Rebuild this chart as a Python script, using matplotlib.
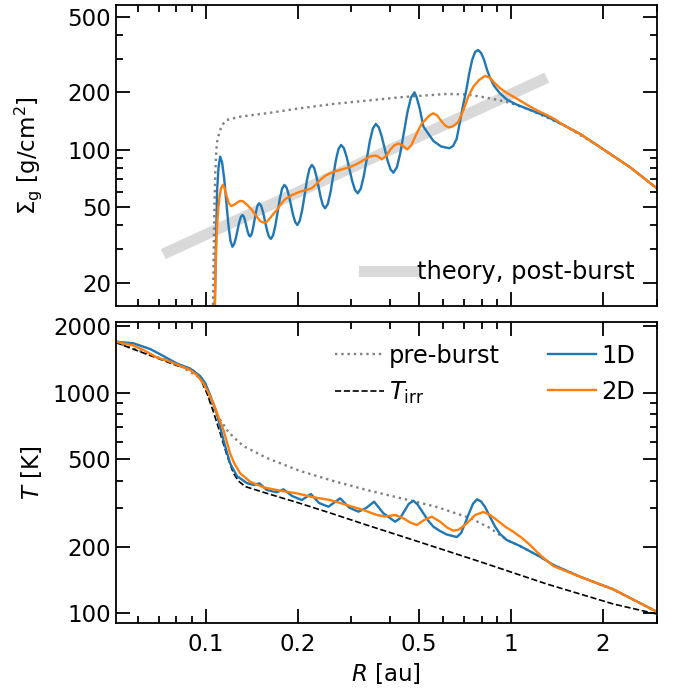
import matplotlib
matplotlib.use('Agg')
import matplotlib.pyplot as plt
from matplotlib.ticker import NullFormatter

plt.rcParams['font.size'] = 16.5
plt.rcParams['mathtext.fontset'] = 'dejavusans'

# --- surface density (top panel) ---
R_sig_1d = [0.1069, 0.1078, 0.1089, 0.1100,
            0.1114, 0.1131, 0.1149, 0.1167, 0.1185, 0.1204, 0.1222,
            0.1237, 0.1253, 0.1269, 0.1285, 0.1302, 0.1318,
            0.1331, 0.1344, 0.1357, 0.1370, 0.1383, 0.1396,
            0.1412, 0.1428, 0.1444, 0.1461, 0.1477, 0.1495,
            0.1517, 0.1540, 0.1562, 0.1586, 0.1609, 0.1633,
            0.1661, 0.1690, 0.1719, 0.1748, 0.1778, 0.1809,
            0.1839, 0.1869, 0.1900, 0.1931, 0.1963, 0.1995,
            0.2031, 0.2069, 0.2107, 0.2145, 0.2184, 0.2225,
            0.2263, 0.2301, 0.2340, 0.2379, 0.2419, 0.2459,
            0.2509, 0.2560, 0.2612, 0.2665, 0.2719, 0.2774,
            0.2833, 0.2893, 0.2954, 0.3017, 0.3081, 0.3147,
            0.3219, 0.3293, 0.3368, 0.3445, 0.3524, 0.3604,
            0.3685, 0.3767, 0.3851, 0.3938, 0.4026, 0.4116,
            0.4226, 0.4339, 0.4455, 0.4574, 0.4697, 0.4824,
            0.4901, 0.5015, 0.5161, 0.5362, 0.5565, 0.5898, 0.628,
            0.6457, 0.6631, 0.6808, 0.6965, 0.7124, 0.7287, 0.7453, 0.7624, 0.7796,
            0.7974, 0.8157, 0.8343, 0.8535, 0.8797, 0.9204, 0.9681, 1.031,
            1.154, 1.309, 1.483, 1.683, 1.909, 2.454, 3.0]
sig_1d = [12.8, 29.7, 61.4, 80.1,
          91.9, 85.4, 70.0, 53.3, 40.6, 33.3, 30.9,
          31.8, 34.1, 37.5, 41.3, 44.3, 45.4,
          44.6, 42.5, 39.8, 37.3, 35.6, 35.0,
          35.9, 38.7, 42.8, 47.3, 50.9, 52.3,
          50.8, 47.0, 42.2, 37.8, 35.0, 34.0,
          35.5, 40.0, 47.1, 55.4, 62.5, 65.3,
          63.2, 57.8, 51.3, 45.4, 41.6, 40.2,
          42.3, 48.3, 57.8, 69.3, 79.2, 83.1,
          80.3, 72.9, 64.0, 56.1, 51.0, 49.2,
          51.8, 59.6, 72.2, 87.4, 100.6, 105.8,
          101.8, 91.5, 79.1, 68.3, 61.4, 59.0,
          62.5, 72.8, 89.7, 110.7, 129.0, 136.4,
          131.2, 117.8, 101.6, 87.7, 78.8, 75.7,
          80.8, 96.6, 123.1, 157.0, 187.5, 200.1,
          189.1, 165.5, 132.1, 120.9, 111.1, 103.9, 101.7,
          104.6, 113.8, 141.5, 171.7, 203.3, 249.7, 295.8, 325.8, 333.7,
          321.8, 295.8, 262.0, 237.9, 216.0, 197.2, 183.4, 173.8,
          161.6, 149.4, 134.8, 120.9, 105.8, 80.8, 62.7]

R_sig_2d = [0.1067, 0.1076, 0.1086, 0.1097, 0.1110, 0.1122, 0.1137, 0.1151, 0.1170, 0.1188,
            0.1210, 0.1238, 0.1266, 0.1296, 0.1325, 0.1366, 0.1415, 0.1461, 0.1506, 0.1544,
            0.1582, 0.1624, 0.1709, 0.1764, 0.1818, 0.1917, 0.2036, 0.2131, 0.2225, 0.2297,
            0.2367, 0.2459, 0.2554, 0.2682, 0.2822, 0.2970, 0.3123, 0.3275, 0.3453, 0.3599,
            0.3681, 0.3771, 0.3881, 0.4015, 0.4138, 0.4274, 0.4411, 0.4564, 0.4705, 0.4910,
            0.5091, 0.5294, 0.5430, 0.5565, 0.5724, 0.5929, 0.6102, 0.6281, 0.6481, 0.6722,
            0.6981, 0.7231, 0.7524, 0.7854, 0.8219, 0.8505, 0.8797, 0.9204, 0.9681, 1.017,
            1.082, 1.154, 1.226, 1.309, 1.394, 1.483, 1.683, 1.909, 2.454, 3.0]
sig_2d = [12.8, 23.3, 36.4, 48.3, 57.1, 62.9, 65.3, 62.9, 57.1, 52.5,
          50.6, 51.3, 52.8, 53.8, 53.5, 51.3, 48.3, 44.9, 42.2, 41.4,
          41.7, 43.8, 48.3, 51.9, 54.9, 57.8, 60.2, 61.4, 62.7, 65.7,
          69.3, 72.8, 75.2, 77.3, 79.2, 81.1, 84.1, 87.8, 92.1, 93.2,
          91.6, 89.0, 92.1, 99.6, 105.2, 107.8, 105.2, 100.2, 105.2, 121.9,
          136.5, 146.2, 152.1, 155.3, 151.2, 140.3, 133.2, 130.8, 133.2, 140.3,
          161.6, 189.1, 214.2, 232.2, 243.8, 239.3, 225.3, 210.1, 198.5, 189.8,
          179.1, 168.2, 159.7, 152.1, 144.1, 134.8, 120.9, 105.8, 80.8, 62.7]

R_sig_pre = [0.1053, 0.1059, 0.1065, 0.1073, 0.1086, 0.1100, 0.1120, 0.1139, 0.1172,
             0.1296, 0.1584, 0.2036, 0.2618, 0.3367, 0.4330, 0.6157, 0.7158, 0.8325,
             0.9204, 0.9925, 1.154, 1.483, 1.909, 2.454, 3.0]
sig_pre = [11.3, 23.4, 42.8, 73.7, 108.1, 118.0, 129.5, 136.5, 143.2,
           149.0, 155.3, 164.9, 173.8, 180.8, 188.4, 196.1, 194.9, 187.5,
           181.3, 175.9, 161.6, 134.8, 105.8, 80.8, 62.7]

R_theory = [0.0754, 1.26]
sig_theory = [29.1, 232.2]

# --- temperature (bottom panel) ---
R_T_1d = [0.0507, 0.0579, 0.0657, 0.0726, 0.0804, 0.0888, 0.0958, 0.0995, 0.1033, 0.1086,
          0.1142, 0.1201, 0.1264, 0.1362, 0.1432, 0.1498, 0.1584, 0.1708, 0.1796, 0.1917,
          0.2063, 0.2208, 0.2350, 0.2521, 0.2754, 0.2947, 0.3161, 0.3350, 0.3558, 0.3818,
          0.4169, 0.4317, 0.4468, 0.4622, 0.4786, 0.4940, 0.5161, 0.5348, 0.5565, 0.5854,
          0.6157, 0.6641, 0.6859, 0.7066, 0.7287, 0.7507, 0.7738, 0.7974, 0.8219, 0.8535,
          0.8864, 0.9204, 0.9681, 1.070, 1.245, 1.376, 1.683, 2.163, 3.0]
T_1d = [1703, 1675, 1578, 1467, 1356, 1287, 1190, 1107, 976, 807,
        610, 478.6, 419.4, 389.8, 381.7, 388.5, 362.2, 353.6, 364.9, 340.2,
        326.3, 347.4, 316.2, 304.2, 332.2, 301.7, 288.8, 300.1, 320.6, 284.0,
        260.2, 268.7, 290.2, 313.6, 323.9, 311.3, 284.0, 263.4, 247.0, 236.0,
        227.6, 221.8, 231.2, 255.9, 284.9, 314.5, 328.7, 321.2, 303.3, 273.2,
        247.0, 228.8, 214.9, 201.9, 180.5, 165.6, 146.5, 128.4, 101.7]

R_T_2d = [0.0507, 0.0579, 0.0625, 0.0691, 0.0745, 0.0804, 0.0888, 0.0934, 0.0982, 0.1017,
          0.1059, 0.1097, 0.1142, 0.1201, 0.1238, 0.1296, 0.1397, 0.1544, 0.1751, 0.1986,
          0.2252, 0.2554, 0.2896, 0.3282, 0.3632, 0.3867, 0.4169, 0.4438, 0.4670, 0.4910,
          0.5189, 0.5498, 0.5854, 0.6171, 0.6471, 0.6757, 0.7158, 0.7624, 0.8115, 0.8535,
          0.8977, 0.9557, 1.017, 1.086, 1.154, 1.245, 1.376, 1.683, 2.163, 3.0]
T_2d = [1703, 1637, 1562, 1444, 1400, 1342, 1268, 1203, 1103, 1007,
        895, 784, 677.5, 531, 480, 431, 395, 372.6, 359.5, 349.9,
        335.7, 326.3, 309.7, 293.9, 279.1, 274.7, 279.1, 269.6, 258.0, 251.3,
        264.9, 274.1, 260.2, 244.9, 236.8, 239.8, 255.9, 279.1, 287.9, 279.1,
        264.9, 247.4, 234.4, 219.4, 204.0, 183.7, 163.8, 146.5, 128.4, 101.7]

R_T_pre = [0.0507, 0.0804, 0.0958, 0.1008, 0.1059, 0.1097, 0.1128, 0.1172,
           0.1231, 0.1328, 0.1584, 0.2036, 0.2618, 0.3367, 0.4330, 0.5710,
           0.7340, 0.8535, 0.9681, 1.070, 1.245, 1.376, 1.683, 2.163, 3.0]
T_pre = [1689, 1349, 1166, 1007, 852, 776, 737, 678,
         630, 573, 506, 441.8, 398, 362.2, 333.2, 303.4,
         270.4, 243.5, 214.9, 201.9, 180.5, 165.6, 146.5, 128.4, 101.7]

R_T_irr = [0.0507, 0.0625, 0.0804, 0.0911, 0.0958, 0.1008, 0.1059, 0.1114,
           0.1172, 0.1231, 0.1279, 0.1345, 0.1584, 0.2036, 0.2618, 0.3367,
           0.4786, 0.7915, 1.309, 2.163, 3.0]
T_irr = [1689, 1514, 1328, 1261, 1166, 997, 818, 657,
         522, 432.5, 397.9, 375.7, 349.9, 315.1, 281.9, 251.3,
         214.9, 171.4, 135.8, 110.2, 99.3]

xticks = [0.1, 0.2, 0.5, 1, 2]
xticklabels = ['0.1', '0.2', '0.5', '1', '2']
sig_ticks = [20, 50, 100, 200, 500]
T_ticks = [100, 200, 500, 1000, 2000]

fig = plt.figure(figsize=(6.81, 6.92), dpi=100)
ax1 = fig.add_axes([0.170, 0.5578, 0.7944, 0.435])
ax2 = fig.add_axes([0.170, 0.0997, 0.7944, 0.435], sharex=ax1)

ax1.plot(R_theory, sig_theory, color='#d9d9d9', lw=8, label='theory, post-burst')
ax1.plot(R_sig_pre, sig_pre, color='gray', ls=':', lw=1.7)
ax1.plot(R_sig_1d, sig_1d, color='tab:blue', lw=1.7)
ax1.plot(R_sig_2d, sig_2d, color='tab:orange', lw=1.7)

ax2.plot(R_T_pre, T_pre, color='gray', ls=':', lw=1.7, label='pre-burst')
ax2.plot(R_T_irr, T_irr, color='black', ls='--', lw=1.2, label=r'$T_{\rm irr}$')
ax2.plot(R_T_1d, T_1d, color='tab:blue', lw=1.7, label='1D')
ax2.plot(R_T_2d, T_2d, color='tab:orange', lw=1.7, label='2D')

for ax in (ax1, ax2):
    ax.set_xscale('log')
    ax.set_yscale('log')
    ax.tick_params(which='both', direction='in', top=True, right=True, width=1.3)
    ax.tick_params(which='major', length=10)
    ax.tick_params(which='minor', length=5)
    for s in ax.spines.values():
        s.set_linewidth(1.3)

ax1.set_xlim(0.0507, 3.0)
ax1.set_ylim(15.1, 575)
ax2.set_ylim(90.4, 2092)

ax2.set_xticks(xticks, xticklabels)
ax2.xaxis.set_minor_formatter(NullFormatter())
ax1.tick_params(labelbottom=False)
ax2.tick_params(axis='x', pad=7)
ax1.set_yticks(sig_ticks, [str(v) for v in sig_ticks])
ax2.set_yticks(T_ticks, [str(v) for v in T_ticks])
ax1.yaxis.set_minor_formatter(NullFormatter())
ax2.yaxis.set_minor_formatter(NullFormatter())

ax1.set_ylabel(r'$\Sigma_{\rm g}$ [g/cm$^2$]')
ax2.set_ylabel(r'$T$ [K]')
ax2.set_xlabel(r'$R$ [au]')
ax1.yaxis.set_label_coords(-0.133, 0.5)
ax2.yaxis.set_label_coords(-0.133, 0.5)

ax1.legend(loc='lower right', frameon=False, fontsize=17.4,
           handlelength=2, handletextpad=0.2)
ax2.legend(loc='upper right', frameon=False, ncol=2, fontsize=17.4,
           handlelength=2, handletextpad=0.2, columnspacing=2.0)

fig.savefig('out.png', dpi=100)
